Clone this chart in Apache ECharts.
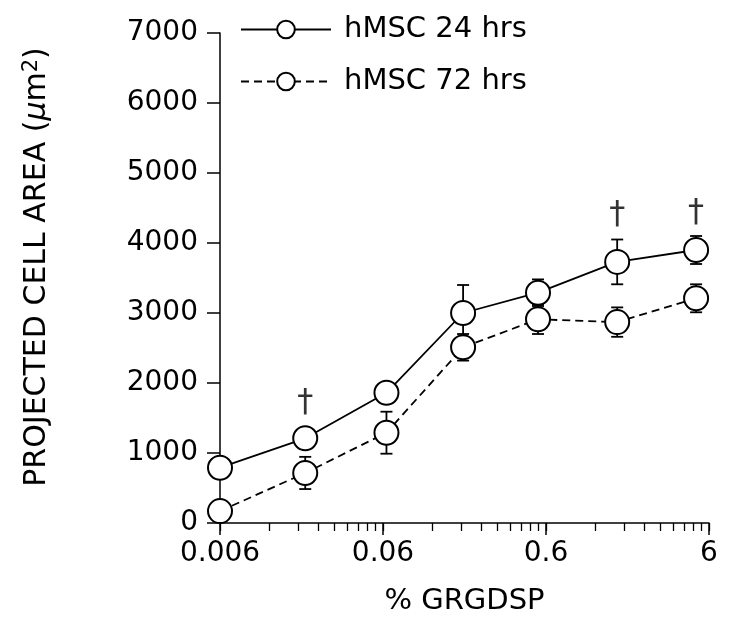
<!DOCTYPE html>
<html><head><meta charset="utf-8">
<script src="https://cdn.jsdelivr.net/npm/echarts@6/dist/echarts.min.js"></script>
<style>html,body{margin:0;padding:0;background:#fff}#c{width:729px;height:617px}</style>
</head><body><div id="c"></div>
<script>
var xValues = [0.006, 0.02, 0.063, 0.186, 0.536, 1.64, 5.0];
var area24 = [790, 1210, 1860, 3000, 3290, 3730, 3900];
var err24 = [0, 0, 0, 400, 190, 320, 200];
var area72 = [170, 715, 1290, 2510, 2910, 2870, 3210];
var err72 = [0, 230, 300, 190, 210, 210, 200];
var daggerX = [0.02, 1.64, 5.0];
var daggerY = [1720, 4400, 4440];
var xTickValues = [0.006, 0.06, 0.6, 6];
var xTickLabels = ['0.006', '0.06', '0.6', '6'];
var xMinorMultipliers = [1, 2, 3, 4, 5, 6, 7, 8, 9];
var yTicks = [0, 1000, 2000, 3000, 4000, 5000, 6000, 7000];

var FONT = 'DejaVu Sans';
var minorVals = [];
xTickValues.forEach(function (d, i) {
  if (i < xTickValues.length - 1) xMinorMultipliers.forEach(function (m) { minorVals.push(+(d * m).toPrecision(6)); });
});
minorVals.push(6);

function pairs(xs, ys) { return xs.map(function (x, i) { return [x, ys[i]]; }); }
function errData(xs, ys, es) { return xs.map(function (x, i) { return [x, ys[i], es[i]]; }); }

function errRender(params, api) {
  var x = api.value(0), y = api.value(1), e = api.value(2);
  if (!e) return null;
  var top = api.coord([x, y + e]);
  var bot = api.coord([x, y - e]);
  var hw = 6;
  var st = { stroke: '#000', lineWidth: 1.8 };
  return { type: 'group', children: [
    { type: 'line', shape: { x1: top[0], y1: top[1], x2: bot[0], y2: bot[1] }, style: st },
    { type: 'line', shape: { x1: top[0] - hw, y1: top[1], x2: top[0] + hw, y2: top[1] }, style: st },
    { type: 'line', shape: { x1: bot[0] - hw, y1: bot[1], x2: bot[0] + hw, y2: bot[1] }, style: st }
  ]};
}

var chart = echarts.init(document.getElementById('c'), null, { renderer: 'canvas' });
var axisLine = { show: true, lineStyle: { color: '#000', width: 1.5 } };
chart.setOption({
  animation: false,
  backgroundColor: '#fff',
  textStyle: { fontFamily: FONT, color: '#000' },
  grid: { left: 220, right: 20, top: 33, bottom: 94, containLabel: false, outerBoundsMode: 'none' },
  legend: {
    left: 235, top: 10, orient: 'vertical', itemGap: 23,
    itemWidth: 90, itemHeight: 22,
    textStyle: { fontFamily: FONT, fontSize: 29, color: '#000', padding: [0, 0, 0, 8] },
    data: ['hMSC 24 hrs', 'hMSC 72 hrs']
  },
  xAxis: [{
    type: 'log', logBase: 10, min: 0.006, max: 6,
    position: 'bottom',
    axisLine: axisLine,
    splitLine: { show: false },
    axisTick: { show: true, customValues: xTickValues, length: 12, inside: false, lineStyle: { color: '#000', width: 1.5 } },
    axisLabel: { customValues: xTickValues, margin: 17, fontFamily: FONT, fontSize: 28, color: '#000',
      formatter: function (v) { var i = xTickValues.findIndex(function (t) { return Math.abs(t - v) / t < 1e-6; }); return i >= 0 ? xTickLabels[i] : ''; } },
    name: '% GRGDSP', nameLocation: 'middle', nameGap: 64,
    nameTextStyle: { fontFamily: FONT, fontSize: 29, color: '#000' }
  }, {
    type: 'log', logBase: 10, min: 0.006, max: 6,
    position: 'bottom',
    axisLine: { show: false },
    splitLine: { show: false },
    axisTick: { show: true, customValues: minorVals, length: 8, lineStyle: { color: '#000', width: 1.3 } },
    axisLabel: { show: false }
  }],
  yAxis: {
    type: 'value', min: 0, max: 7000, interval: 1000,
    axisLine: axisLine,
    splitLine: { show: false },
    axisTick: { show: true, length: 13, lineStyle: { color: '#000', width: 1.5 } },
    axisLabel: { margin: 22, fontFamily: FONT, fontSize: 28, color: '#000',
      formatter: function (v) { var i = yTicks.indexOf(v); return i >= 0 ? String(yTicks[i]) : ''; } },
    name: '{n|PROJECTED CELL AREA (}{mu|\u03bc}{n|m}{sup|2}{n|)}',
    nameLocation: 'middle', nameGap: 166, nameRotate: 90,
    nameTextStyle: {
      fontFamily: FONT, fontSize: 30, color: '#000', padding: [0, 0, 0, 22],
      rich: {
        n: { fontFamily: FONT, fontSize: 30, color: '#000' },
        mu: { fontFamily: FONT, fontSize: 30, fontStyle: 'italic', color: '#000' },
        sup: { fontFamily: FONT, fontSize: 21, color: '#000', verticalAlign: 'top', padding: [0, 0, 12, 0] }
      }
    }
  },
  series: [
    { type: 'custom', name: 'err24', renderItem: errRender, data: errData(xValues, area24, err24), z: 1, encode: { x: 0, y: 1 } },
    { type: 'custom', name: 'err72', renderItem: errRender, data: errData(xValues, area72, err72), z: 1, encode: { x: 0, y: 1 } },
    { type: 'line', name: 'hMSC 24 hrs', data: pairs(xValues, area24), symbol: 'circle', symbolSize: 24,
      lineStyle: { color: '#000', width: 1.8, type: 'solid' },
      itemStyle: { color: '#fff', borderColor: '#000', borderWidth: 2 }, z: 3 },
    { type: 'line', name: 'hMSC 72 hrs', data: pairs(xValues, area72), symbol: 'circle', symbolSize: 24,
      lineStyle: { color: '#000', width: 1.8, type: [8, 5] },
      itemStyle: { color: '#fff', borderColor: '#000', borderWidth: 2 }, z: 2 },
    { type: 'scatter', name: 'dagger', data: pairs(daggerX, daggerY), symbolSize: 1, itemStyle: { color: 'rgba(0,0,0,0)' },
      label: { show: true, position: 'inside', formatter: '\u2020', fontFamily: FONT, fontSize: 32, color: '#000' }, z: 4 }
  ]
});
</script></body></html>
